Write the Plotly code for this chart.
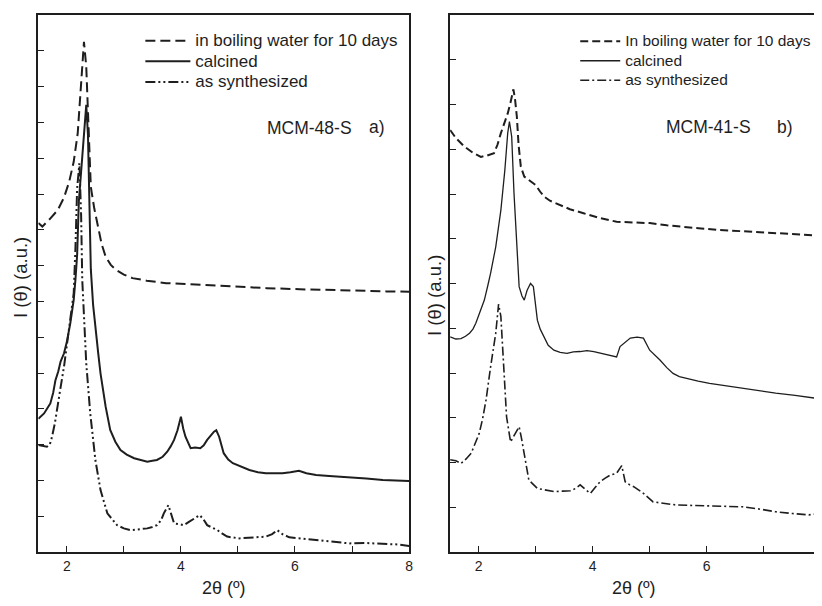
import plotly.graph_objects as go

# ---------------- Data ----------------
# Panel a) MCM-48-S
a_boil_x = [1.50, 1.57, 1.70, 1.84, 1.95, 2.04, 2.12, 2.19, 2.25, 2.30, 2.34, 2.38, 2.42, 2.48, 2.54, 2.61, 2.68, 2.77, 2.86, 3.00, 3.15, 3.40, 3.74, 4.30, 4.91, 5.50, 6.08, 6.70, 7.25, 7.60, 8.00]
a_boil_y = [9.19, 9.09, 9.30, 9.55, 9.90, 10.34, 10.90, 11.69, 13.09, 14.25, 13.56, 11.80, 10.20, 9.60, 9.09, 8.60, 8.25, 8.02, 7.88, 7.75, 7.65, 7.58, 7.51, 7.46, 7.41, 7.37, 7.34, 7.31, 7.29, 7.28, 7.27]

a_calc_x = [1.50, 1.55, 1.60, 1.66, 1.71, 1.76, 1.80, 1.85, 1.89, 1.95, 2.00, 2.06, 2.12, 2.15, 2.18, 2.21, 2.27, 2.30, 2.34, 2.37, 2.40, 2.42, 2.46, 2.50, 2.55, 2.59, 2.68, 2.76, 2.85, 2.94, 3.05, 3.18, 3.30, 3.41, 3.50, 3.58, 3.68, 3.76, 3.82, 3.88, 3.94, 4.00, 4.04, 4.08, 4.17, 4.25, 4.34, 4.40, 4.46, 4.52, 4.58, 4.62, 4.67, 4.75, 4.83, 4.91, 5.05, 5.20, 5.35, 5.49, 5.65, 5.78, 5.92, 6.07, 6.20, 6.37, 6.60, 6.95, 7.25, 7.54, 7.80, 8.00]
a_calc_y = [3.72, 3.80, 3.87, 4.02, 4.15, 4.45, 4.80, 5.05, 5.32, 5.55, 5.87, 6.39, 7.04, 7.60, 8.30, 9.79, 11.09, 11.65, 12.49, 11.65, 9.79, 7.90, 6.90, 6.20, 5.55, 4.99, 4.06, 3.41, 3.08, 2.85, 2.72, 2.62, 2.56, 2.52, 2.55, 2.57, 2.66, 2.80, 2.95, 3.13, 3.40, 3.78, 3.45, 3.22, 2.90, 2.92, 2.90, 2.98, 3.13, 3.25, 3.36, 3.40, 3.22, 2.76, 2.58, 2.48, 2.38, 2.29, 2.23, 2.20, 2.20, 2.20, 2.23, 2.27, 2.20, 2.15, 2.12, 2.09, 2.05, 2.01, 1.99, 1.98]

a_syn_x = [1.50, 1.58, 1.65, 1.70, 1.74, 1.79, 1.83, 1.89, 1.95, 2.03, 2.12, 2.15, 2.18, 2.22, 2.25, 2.27, 2.30, 2.34, 2.41, 2.50, 2.59, 2.71, 2.88, 3.00, 3.12, 3.25, 3.41, 3.50, 3.58, 3.65, 3.70, 3.78, 3.83, 3.88, 3.96, 4.05, 4.14, 4.23, 4.33, 4.40, 4.46, 4.55, 4.64, 4.72, 4.81, 5.02, 5.25, 5.49, 5.60, 5.69, 5.78, 5.90, 6.10, 6.37, 6.65, 6.95, 7.25, 7.54, 7.80, 8.00]
a_syn_y = [2.99, 2.97, 2.94, 3.00, 3.22, 3.60, 4.06, 4.60, 5.18, 6.11, 7.23, 8.48, 10.16, 10.86, 9.40, 7.60, 6.67, 5.27, 3.87, 2.57, 1.73, 1.08, 0.75, 0.66, 0.61, 0.63, 0.66, 0.70, 0.75, 0.88, 1.08, 1.31, 1.05, 0.80, 0.78, 0.75, 0.84, 0.94, 1.03, 0.90, 0.75, 0.68, 0.61, 0.52, 0.43, 0.38, 0.40, 0.43, 0.50, 0.61, 0.50, 0.41, 0.38, 0.34, 0.30, 0.24, 0.25, 0.24, 0.21, 0.17]

# Panel b) MCM-41-S
b_boil_x = [1.50, 1.60, 1.75, 1.90, 2.04, 2.15, 2.27, 2.33, 2.39, 2.45, 2.51, 2.56, 2.61, 2.64, 2.67, 2.70, 2.74, 2.80, 2.90, 3.00, 3.08, 3.15, 3.25, 3.38, 3.60, 3.84, 4.10, 4.42, 4.70, 5.00, 5.30, 5.59, 5.90, 6.17, 6.45, 6.75, 7.05, 7.33, 7.65, 8.00]
b_boil_y = [9.43, 9.25, 9.06, 8.92, 8.83, 8.86, 8.91, 9.10, 9.36, 9.58, 9.80, 10.05, 10.34, 10.10, 9.73, 9.10, 8.61, 8.39, 8.30, 8.20, 8.05, 7.94, 7.85, 7.78, 7.66, 7.57, 7.47, 7.38, 7.37, 7.35, 7.30, 7.26, 7.23, 7.20, 7.18, 7.16, 7.14, 7.12, 7.10, 7.07]

b_calc_x = [1.50, 1.60, 1.69, 1.77, 1.84, 1.90, 1.95, 2.04, 2.10, 2.16, 2.21, 2.30, 2.39, 2.46, 2.51, 2.54, 2.58, 2.62, 2.67, 2.71, 2.76, 2.80, 2.85, 2.91, 2.96, 3.00, 3.03, 3.08, 3.15, 3.22, 3.32, 3.43, 3.55, 3.66, 3.78, 3.90, 4.02, 4.14, 4.25, 4.35, 4.42, 4.48, 4.57, 4.66, 4.78, 4.89, 5.00, 5.10, 5.18, 5.30, 5.41, 5.52, 5.64, 5.85, 6.05, 6.35, 6.63, 6.92, 7.21, 7.55, 8.00]
b_calc_y = [4.81, 4.76, 4.77, 4.82, 4.89, 4.98, 5.11, 5.41, 5.63, 5.95, 6.23, 6.82, 7.64, 8.54, 9.36, 9.62, 9.28, 8.02, 6.67, 5.93, 5.72, 5.63, 5.85, 6.00, 5.93, 5.41, 5.18, 4.98, 4.81, 4.62, 4.51, 4.46, 4.44, 4.47, 4.48, 4.50, 4.48, 4.44, 4.40, 4.37, 4.36, 4.59, 4.68, 4.78, 4.80, 4.78, 4.51, 4.40, 4.29, 4.12, 3.99, 3.92, 3.88, 3.82, 3.77, 3.71, 3.66, 3.60, 3.55, 3.50, 3.42]

b_syn_x = [1.50, 1.60, 1.69, 1.78, 1.87, 1.95, 2.01, 2.07, 2.13, 2.21, 2.30, 2.35, 2.39, 2.44, 2.49, 2.56, 2.60, 2.65, 2.71, 2.75, 2.79, 2.88, 3.03, 3.18, 3.32, 3.47, 3.61, 3.70, 3.78, 3.87, 3.96, 4.05, 4.13, 4.22, 4.31, 4.42, 4.51, 4.57, 4.65, 4.72, 4.89, 5.06, 5.25, 5.47, 5.75, 6.05, 6.35, 6.63, 6.92, 7.21, 7.50, 7.79, 8.00]
b_syn_y = [2.06, 2.04, 1.98, 2.08, 2.21, 2.45, 2.65, 2.98, 3.40, 4.14, 4.89, 5.54, 5.26, 4.14, 3.02, 2.46, 2.55, 2.65, 2.80, 2.55, 2.28, 1.61, 1.42, 1.38, 1.35, 1.36, 1.37, 1.42, 1.50, 1.40, 1.31, 1.45, 1.57, 1.65, 1.72, 1.76, 1.93, 1.57, 1.50, 1.46, 1.31, 1.12, 1.08, 1.05, 1.04, 1.03, 1.02, 1.01, 0.96, 0.90, 0.86, 0.83, 0.86]

x_tickvals = [2, 3, 4, 5, 6, 7, 8]
x_ticktext = ["2", "", "4", "", "6", "", "8"]

W, H = 822, 606
OFF = 8  # page body margin of the html page
INK = "#1e1e1e"
FONT = "Liberation Sans, Arial, sans-serif"


def px(x):
    return (x - OFF) / W


def py(y):
    return 1 - (y - OFF) / H


def big(text, size):
    return '<span style="font-size:%spx">%s</span>' % (size, text)


fig = go.Figure()

# panel a
fig.add_trace(go.Scatter(x=a_boil_x, y=a_boil_y, mode="lines", name=big("in boiling water for 10 days", 17),
                         line=dict(color=INK, width=2, dash="10px,5px"), xaxis="x", yaxis="y", legend="legend"))
fig.add_trace(go.Scatter(x=a_calc_x, y=a_calc_y, mode="lines", name=big("calcined", 17),
                         line=dict(color=INK, width=2), xaxis="x", yaxis="y", legend="legend"))
fig.add_trace(go.Scatter(x=a_syn_x, y=a_syn_y, mode="lines", name=big("as synthesized", 17),
                         line=dict(color=INK, width=2, dash="10px,3px,2px,3px,2px,3px"), xaxis="x", yaxis="y", legend="legend"))
# panel b
fig.add_trace(go.Scatter(x=b_boil_x, y=b_boil_y, mode="lines", name=big("In boiling water for 10 days", 15.5),
                         line=dict(color=INK, width=2, dash="8px,4px"), xaxis="x2", yaxis="y2", legend="legend2"))
fig.add_trace(go.Scatter(x=b_calc_x, y=b_calc_y, mode="lines", name=big("calcined", 15.5),
                         line=dict(color=INK, width=1.3), xaxis="x2", yaxis="y2", legend="legend2"))
fig.add_trace(go.Scatter(x=b_syn_x, y=b_syn_y, mode="lines", name=big("as synthesized", 15.5),
                         line=dict(color=INK, width=1.6, dash="9px,3px,2px,3px"), xaxis="x2", yaxis="y2", legend="legend2"))

axis_common = dict(showline=True, linecolor=INK, linewidth=1.8, mirror=True, ticks="inside",
                   ticklen=6, tickwidth=1.3, tickcolor=INK, showgrid=False, zeroline=False,
                   tickfont=dict(family=FONT, size=14, color=INK))

fig.update_layout(
    width=W, height=H,
    margin=dict(l=0, r=0, t=0, b=0),
    paper_bgcolor="white", plot_bgcolor="white",
    font=dict(family=FONT, color=INK),
    xaxis=dict(domain=[px(38.5), px(411)], range=[1.5, 8], tickvals=x_tickvals, ticktext=x_ticktext,
               anchor="y", **axis_common),
    yaxis=dict(domain=[py(552), py(15)], range=[0, 15], tickvals=list(range(1, 15)), showticklabels=False,
               anchor="x", **axis_common),
    xaxis2=dict(domain=[px(452.3), px(824.7)], range=[1.5, 8], tickvals=x_tickvals,
                ticktext=x_ticktext, anchor="y2", **axis_common),
    yaxis2=dict(domain=[py(552), py(15)], range=[0, 12], tickvals=list(range(1, 12)), showticklabels=False,
                anchor="x2", **axis_common),
    legend=dict(x=px(141), y=py(25.5), xanchor="left", yanchor="top", bgcolor="rgba(0,0,0,0)",
                font=dict(family=FONT, size=13.5, color=INK), itemwidth=45, tracegroupgap=0),
    legend2=dict(x=px(578), y=py(26.5), xanchor="left", yanchor="top", bgcolor="rgba(0,0,0,0)",
                 font=dict(family=FONT, size=12.7, color=INK), itemwidth=40, tracegroupgap=0),
    showlegend=True,
)

annots = [
    dict(text="MCM-48-S", x=px(266), y=py(128), xanchor="left", size=17.5),
    dict(text="a)", x=px(369), y=py(127), xanchor="left", size=17.5),
    dict(text="MCM-41-S", x=px(667), y=py(127), xanchor="left", size=17.5),
    dict(text="b)", x=px(779), y=py(127), xanchor="left", size=17.5),
    dict(text="2θ (º)", x=px(225), y=py(588), xanchor="center", size=18),
    dict(text="2θ (º)", x=px(637), y=py(588), xanchor="center", size=18),
    dict(text="I (θ) (a.u.)", x=px(20), y=py(277), xanchor="center", textangle=-90, size=18.5),
    dict(text="I (θ) (a.u.)", x=px(436), y=py(295), xanchor="center", textangle=-90, size=18.5),
]
for a in annots:
    size = a.pop("size")
    fig.add_annotation(xref="paper", yref="paper", yanchor="middle", showarrow=False,
                       font=dict(family=FONT, size=size, color=INK), **a)

fig.write_html("out.html")
